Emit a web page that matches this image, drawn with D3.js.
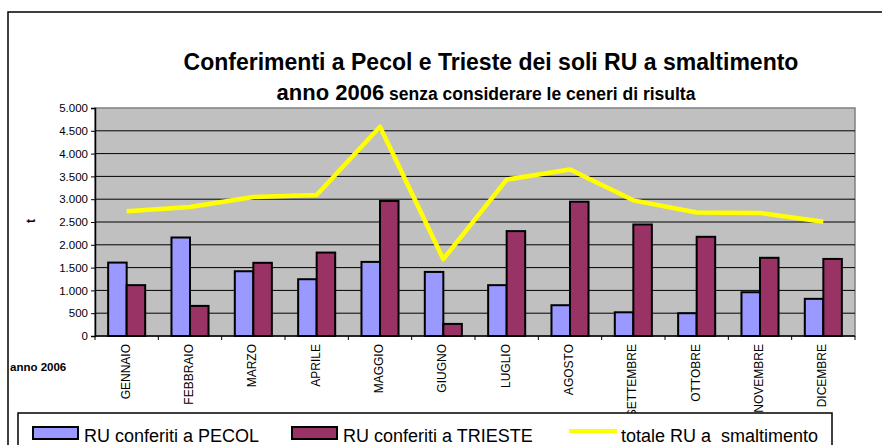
<!DOCTYPE html>
<html>
<head>
<meta charset="utf-8">
<script src="https://cdn.jsdelivr.net/npm/d3@7"></script>
<style>
  body { margin: 0; background: #fff; }
  svg { display: block; font-family: "Liberation Sans", Arial, sans-serif; }
</style>
</head>
<body>
<script>
// data
var mesi = ["GENNAIO","FEBBRAIO","MARZO","APRILE","MAGGIO","GIUGNO","LUGLIO","AGOSTO","SETTEMBRE","OTTOBRE","NOVEMBRE","DICEMBRE"];
var pecol   = [1610, 2160, 1420, 1245, 1625, 1405, 1115, 675, 520, 500, 960, 815];
var trieste = [1115,  660, 1605, 1830, 2960,  265, 2300, 2945, 2445, 2175, 1715, 1690];
var totale  = [2735, 2830, 3050, 3090, 4590, 1685, 3430, 3650, 2975, 2710, 2700, 2505];
var yTicks  = [0, 500, 1000, 1500, 2000, 2500, 3000, 3500, 4000, 4500, 5000];

var W = 882, H = 445;
var pLeft = 95, pRight = 855, pTop = 108, pBottom = 336;

var svg = d3.select("body").append("svg").attr("width", W).attr("height", H);

// outer frame
svg.append("rect").attr("x", 8).attr("y", 12).attr("width", 900).attr("height", 500)
   .attr("fill", "#fff").attr("stroke", "#000").attr("stroke-width", 1.5);

// title
svg.append("text").attr("x", 491).attr("y", 70).attr("text-anchor", "middle")
   .attr("font-size", 23).attr("font-weight", "bold")
   .text("Conferimenti a Pecol e Trieste dei soli RU a smaltimento");
var t2 = svg.append("text").attr("x", 486).attr("y", 100).attr("text-anchor", "middle")
   .attr("font-weight", "bold");
t2.append("tspan").attr("font-size", 22).text("anno 2006");
t2.append("tspan").attr("font-size", 17.5).text(" senza considerare le ceneri di risulta");

var x0 = d3.scaleBand().domain(mesi).range([pLeft, pRight]).paddingInner(0.415).paddingOuter(0.2075);
var x1 = d3.scaleBand().domain(["p", "t"]).range([0, x0.bandwidth()]);
var y = d3.scaleLinear().domain([0, 5000]).range([pBottom, pTop]);

// plot background
svg.append("rect").attr("x", pLeft).attr("y", pTop).attr("width", pRight - pLeft).attr("height", pBottom - pTop)
   .attr("fill", "#C0C0C0").attr("stroke", "#808080").attr("stroke-width", 1.5);

// gridlines
svg.append("g").selectAll("line").data(yTicks.slice(1, -1)).enter().append("line")
   .attr("x1", pLeft).attr("x2", pRight)
   .attr("y1", function(d) { return y(d); }).attr("y2", function(d) { return y(d); })
   .attr("stroke", "#000").attr("stroke-width", 1);

// y axis
var yAxis = svg.append("g").attr("transform", "translate(" + pLeft + ",0)")
   .call(d3.axisLeft(y).tickValues(yTicks).tickSize(4).tickPadding(3)
     .tickFormat(function(d) { return d3.format(",")(d).replace(/,/g, "."); }));
yAxis.select(".domain").attr("stroke", "#000").attr("stroke-width", 1.5);
yAxis.selectAll("text").attr("font-size", 11.5).attr("fill", "#000").attr("font-family", "Liberation Sans, Arial, sans-serif");

svg.append("text").attr("transform", "translate(35,221) rotate(-90)").attr("text-anchor", "middle")
   .attr("font-size", 12).attr("font-weight", "bold").text("t");

// bars
var groups = svg.append("g").selectAll("g").data(mesi).enter().append("g")
   .attr("transform", function(d) { return "translate(" + x0(d) + ",0)"; });
groups.append("rect")
   .attr("x", x1("p")).attr("width", x1.bandwidth())
   .attr("y", function(d, i) { return y(pecol[i]); })
   .attr("height", function(d, i) { return y(0) - y(pecol[i]); })
   .attr("fill", "#9999FF").attr("stroke", "#000").attr("stroke-width", 2);
groups.append("rect")
   .attr("x", x1("t")).attr("width", x1.bandwidth())
   .attr("y", function(d, i) { return y(trieste[i]); })
   .attr("height", function(d, i) { return y(0) - y(trieste[i]); })
   .attr("fill", "#993366").attr("stroke", "#000").attr("stroke-width", 2);

// total line
var line = d3.line()
   .x(function(d, i) { return x0(mesi[i]) + x0.bandwidth() / 2; })
   .y(function(d) { return y(d); });
svg.append("path").datum(totale).attr("d", line)
   .attr("fill", "none").attr("stroke", "#FFFF00").attr("stroke-width", 4.5).attr("stroke-linejoin", "round");

// x axis (ticks between categories)
var bounds = d3.range(mesi.length + 1).map(function(i) { return pLeft + i * (pRight - pLeft) / mesi.length; });
svg.append("line").attr("x1", pLeft).attr("x2", pRight).attr("y1", pBottom).attr("y2", pBottom)
   .attr("stroke", "#000").attr("stroke-width", 1.5);
svg.append("g").selectAll("line").data(bounds).enter().append("line")
   .attr("x1", function(d) { return d; }).attr("x2", function(d) { return d; })
   .attr("y1", pBottom).attr("y2", pBottom + 4).attr("stroke", "#000");

svg.append("g").selectAll("text").data(mesi).enter().append("text")
   .attr("transform", function(d) { return "translate(" + (x0(d) + x0.bandwidth() / 2 + 3) + "," + (pBottom + 8) + ") rotate(-90)"; })
   .attr("text-anchor", "end").attr("font-size", 12).text(function(d) { return d; });

svg.append("text").attr("x", 10).attr("y", 371).attr("font-size", 11.5).attr("font-weight", "bold").text("anno 2006");

// legend
var lg = svg.append("g");
lg.append("rect").attr("x", 18).attr("y", 413).attr("width", 814).attr("height", 60)
   .attr("fill", "#fff").attr("stroke", "#000").attr("stroke-width", 1.5);
var legItems = [
  { label: "RU conferiti a PECOL", color: "#9999FF", type: "rect", x: 33 },
  { label: "RU conferiti a TRIESTE", color: "#993366", type: "rect", x: 292 },
  { label: "totale RU a  smaltimento", color: "#FFFF00", type: "line", x: 569 }
];
legItems.forEach(function(it) {
  if (it.type === "rect") {
    lg.append("rect").attr("x", it.x).attr("y", 427).attr("width", 45).attr("height", 12)
      .attr("fill", it.color).attr("stroke", "#000").attr("stroke-width", 2);
  } else {
    lg.append("line").attr("x1", it.x).attr("x2", it.x + 48).attr("y1", 431).attr("y2", 431)
      .attr("stroke", it.color).attr("stroke-width", 4);
  }
  lg.append("text").attr("x", it.x + (it.type === "rect" ? 51 : 52)).attr("y", 442)
    .attr("font-size", 18).style("white-space", "pre").text(it.label);
});
</script>
</body>
</html>
